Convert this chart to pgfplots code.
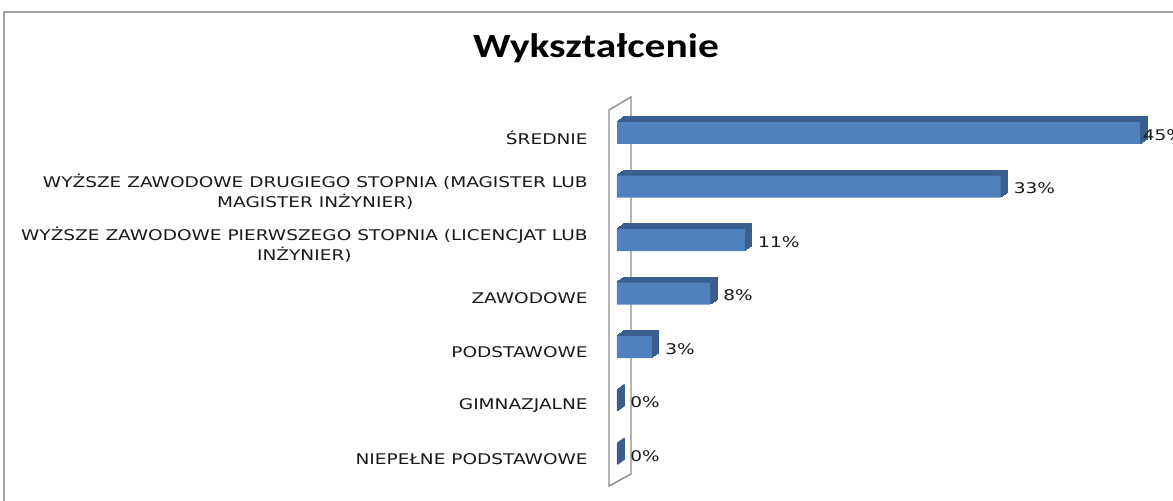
\documentclass[border=0pt]{standalone}
\usepackage{fontspec}
\usepackage{pgfplots}
\usepackage{pgfplotstable}
\pgfplotsset{compat=1.18}
\newfontfamily\lab[FakeStretch=1.26]{DejaVu Sans}
\newfontfamily\ttl[FakeStretch=1.22]{Carlito}
\definecolor{front}{HTML}{4F81BD}
\definecolor{side}{HTML}{3A5F8E}
\definecolor{wall}{HTML}{8C8C8C}

\pgfplotstableread{
y v
6 45
5 33
4 11
3 8
2 3
1 0
0 0
}\data
\pgfplotstableread{
y v
5 33
4 11
3 8
2 3
1 0
0 0
}\rest
\pgfplotstableread{
y v
6 45
}\top

\begin{document}
\begin{tikzpicture}
\useasboundingbox (0,0) rectangle (586.5pt,250pt);
% chart frame
\draw[wall!80, line width=0.8pt] (2pt,-5pt) -- (2pt,244pt) -- (600pt,244pt);
% title
\node[font=\ttl\bfseries\fontsize{17}{20}\selectfont] at (298pt,226pt) {Wykształcenie};
% wall
\draw[wall, line width=0.7pt] (304.5pt,7pt) -- (304.5pt,195pt) -- (315.5pt,201.5pt) -- (315.5pt,13pt) -- cycle;
\begin{axis}[
  at={(308.5pt,9.625pt)}, anchor=south west,
  scale only axis, width=261.5pt, height=187.25pt,
  xmin=0, xmax=45, ymin=-0.5, ymax=6.5,
  clip=false,
  axis line style={draw=none},
  xtick=\empty,
  ytick={0,1,2,3,4,5,6},
  major tick length=0pt,
  /pgf/number format/assume math mode=true,
  yticklabels={NIEPEŁNE PODSTAWOWE,GIMNAZJALNE,PODSTAWOWE,ZAWODOWE,{WYŻSZE ZAWODOWE PIERWSZEGO STOPNIA (LICENCJAT LUB\\INŻYNIER)},{WYŻSZE ZAWODOWE DRUGIEGO STOPNIA (MAGISTER LUB\\MAGISTER INŻYNIER)},ŚREDNIE},
  yticklabel style={anchor=east, align=center, inner sep=0pt, xshift=-14.5pt, yshift=-2.5pt, text=black!90, font=\lab\fontsize{7.35}{10}\selectfont},
  every node near coord/.append style={anchor=west, inner sep=0pt, yshift=-1pt, text=black!90, font=\lab\fontsize{7.35}{10}\selectfont},
]
\pgfplotsinvokeforeach{1,2,3,4,5,6,7}{
  \addplot[xbar, bar shift=0pt, bar width=11pt, fill=side, draw=side, line width=0.6pt, xshift=#1*0.5pt, yshift=#1*0.36pt] table[x=v,y=y]{\data};
}
\addplot[xbar, bar shift=0pt, bar width=11pt, fill=front, draw=none,
  nodes near coords={\pgfmathprintnumber{\pgfplotspointmeta}\%},
  point meta=x,
  every node near coord/.append style={xshift=6.5pt}
] table[x=v,y=y]{\rest};
\addplot[xbar, bar shift=0pt, bar width=11pt, fill=front, draw=none,
  nodes near coords={\pgfmathprintnumber{\pgfplotspointmeta}\%},
  point meta=x,
  every node near coord/.append style={xshift=1.2pt}
] table[x=v,y=y]{\top};
\end{axis}
\end{tikzpicture}
\end{document}
